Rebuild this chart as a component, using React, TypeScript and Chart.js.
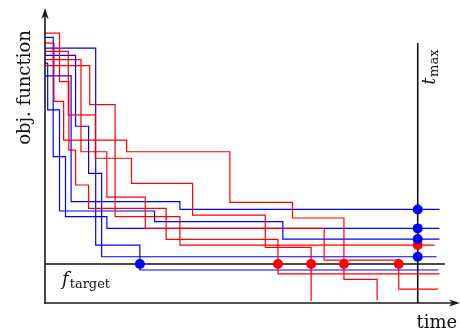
import React, { useEffect, useRef } from "react";
import { Chart, registerables } from "chart.js";

Chart.register(...registerables);

// axis ranges (time, objective value)
const T_MAX = 100;
const F_TARGET = 15;
const X_MAX = 110;
const Y_MAX = 113.5;
const TARGET_END = 107.3;

// step runs: [time, objective value] — value holds until next time
const blue1: [number, number][] = [[0, 87.4], [7.0, 39.0], [36.2, 36.0], [105.85, 36.0]];
const blue2: [number, number][] = [[0, 102.2], [2.2, 56.3], [5.5, 33.2], [16.6, 28.7], [105.85, 28.7]];
const blue3: [number, number][] = [[0, 92.3], [0.72, 74.3], [3.9, 35.4], [29.4, 31.3], [63.8, 24.6], [105.85, 24.6]];
const blue4: [number, number][] = [[0, 98.1], [13.6, 22.3], [25.45, 12.7], [105.5, 12.7]];
const blue5: [number, number][] = [[0, 95.3], [8.2, 68.0], [11.7, 49.9], [15.2, 17.8], [105.05, 17.8]];

const red1: [number, number][] = [[0, 103.8], [3.9, 85.2], [6.4, 58.8], [8.2, 45.4], [11.7, 36.4], [32.5, 24.5], [62.5, 11.2], [105.85, 11.2]];
const red2: [number, number][] = [[0, 100], [2.4, 77.6], [5.0, 62.7], [21.9, 58.2], [49.6, 38.7], [66.4, 32.7], [80.2, 9.1], [89.1, 1.15]];
const red3: [number, number][] = [[0, 96.8], [6.25, 72.4], [13.5, 55.7], [23.2, 46.0], [39.6, 33.8], [59.1, 21.4], [71.4, 0.8]];
const red4: [number, number][] = [[0, 93.6], [9.65, 58.2], [16.6, 40.7], [26.9, 28.7], [74.9, 16.5], [94.9, 5.3], [105.5, 5.3]];
const red5: [number, number][] = [[0, 91.3], [12.0, 76.3], [18.8, 33.2], [36.2, 22.3], [104.5, 22.3]];

const blueRuns = [blue1, blue2, blue3, blue4, blue5];
const redRuns = [red1, red2, red3, red4, red5];

const BLUE = "#0000ff";
const RED = "#ff0000";
const FONT = '"DejaVu Serif", "Liberation Serif", serif';

function markerFor(run: [number, number][]) {
  for (const [t, f] of run) {
    if (t <= T_MAX && f <= F_TARGET) return { x: t, y: F_TARGET };
  }
  let last = run[0][1];
  for (const [t, f] of run) if (t <= T_MAX) last = f;
  return { x: T_MAX, y: last };
}

const decor = {
  id: "decor",
  afterDraw(chart: any) {
    const { ctx, scales } = chart;
    const xs = scales.x;
    const ys = scales.y;
    const x0 = xs.getPixelForValue(0);
    const y0 = ys.getPixelForValue(0);
    const yTop = ys.getPixelForValue(Y_MAX);
    const xEnd = xs.getPixelForValue(X_MAX) + 5;
    ctx.save();
    ctx.strokeStyle = "#1a1a1a";
    ctx.fillStyle = "#1a1a1a";
    ctx.lineWidth = 1.6;
    // y axis
    ctx.beginPath();
    ctx.moveTo(x0, y0 + 0.8);
    ctx.lineTo(x0, yTop + 5);
    ctx.stroke();
    ctx.beginPath();
    ctx.moveTo(x0, yTop);
    ctx.lineTo(x0 + 3.6, yTop + 11);
    ctx.lineTo(x0, yTop + 8);
    ctx.lineTo(x0 - 3.6, yTop + 11);
    ctx.closePath();
    ctx.fill();
    // x axis
    ctx.beginPath();
    ctx.moveTo(x0 - 0.8, y0);
    ctx.lineTo(xEnd - 5, y0);
    ctx.stroke();
    ctx.beginPath();
    ctx.moveTo(xEnd, y0);
    ctx.lineTo(xEnd - 11, y0 - 3.6);
    ctx.lineTo(xEnd - 8, y0);
    ctx.lineTo(xEnd - 11, y0 + 3.6);
    ctx.closePath();
    ctx.fill();

    ctx.fillStyle = "#111";
    // y title
    ctx.save();
    ctx.translate(25, (yTop + y0) / 2 - 68);
    ctx.rotate(-Math.PI / 2);
    ctx.font = `18px ${FONT}`;
    ctx.textAlign = "center";
    ctx.textBaseline = "middle";
    ctx.fillText("obj. function", 0, 0);
    ctx.restore();

    // x title
    ctx.font = `18px ${FONT}`;
    ctx.textAlign = "left";
    ctx.textBaseline = "alphabetic";
    ctx.fillText("time", 416.5, 328);

    // t_max label
    const tx = xs.getPixelForValue(T_MAX);
    ctx.save();
    ctx.translate(tx + 17, ys.getPixelForValue(84));
    ctx.rotate(-Math.PI / 2);
    ctx.font = `italic 18px ${FONT}`;
    ctx.fillText("t", 0, 0);
    const wt = ctx.measureText("t").width;
    ctx.font = `13px ${FONT}`;
    ctx.fillText("max", wt + 0.5, 3.7);
    ctx.restore();

    // f_target label
    const fy = ys.getPixelForValue(F_TARGET);
    ctx.font = `italic 18px ${FONT}`;
    ctx.fillText("f", 62, fy + 21);
    const wf = ctx.measureText("f").width;
    ctx.font = `13px ${FONT}`;
    ctx.fillText("target", 62 + wf + 1, fy + 24);
    ctx.restore();
  },
};

export default function App() {
  const ref = useRef<HTMLCanvasElement | null>(null);
  useEffect(() => {
    if (!ref.current) return;
    const runSet = (runs: [number, number][][], color: string) =>
      runs.map((run) => ({
        type: "line" as const,
        data: run.map(([t, f]) => ({ x: t, y: f })),
        borderColor: color,
        borderWidth: 1.2,
        stepped: "before" as const,
        pointRadius: 0,
        fill: false,
        order: 2,
      }));
    const chart = new Chart(ref.current, {
      type: "line",
      data: {
        datasets: [
          {
            data: blueRuns.map(markerFor),
            showLine: false,
            pointRadius: 5,
            pointBackgroundColor: BLUE,
            pointBorderWidth: 0,
            borderColor: BLUE,
            order: 0,
          },
          {
            data: redRuns.map(markerFor),
            showLine: false,
            pointRadius: 5,
            pointBackgroundColor: RED,
            pointBorderWidth: 0,
            borderColor: RED,
            order: 1,
          },
          ...runSet(redRuns, RED),
          ...runSet(blueRuns, BLUE),
          {
            data: [{ x: 0, y: F_TARGET }, { x: TARGET_END, y: F_TARGET }],
            borderColor: "#111",
            borderWidth: 1.6,
            pointRadius: 0,
            order: 3,
          },
          {
            data: [{ x: T_MAX, y: 0 }, { x: T_MAX, y: 100 }],
            borderColor: "#111",
            borderWidth: 1.6,
            pointRadius: 0,
            order: 3,
          },
        ] as any,
      },
      options: {
        animation: false,
        responsive: false,
        maintainAspectRatio: false,
        layout: { padding: { left: 45, right: 1.4, top: 8, bottom: 31 } },
        scales: {
          x: { type: "linear", min: 0, max: X_MAX, display: false },
          y: { type: "linear", min: 0, max: Y_MAX, display: false },
        },
        plugins: { legend: { display: false }, tooltip: { enabled: false } },
      },
      plugins: [decor],
    });
    return () => chart.destroy();
  }, []);
  return (
    <div style={{ position: "absolute", left: 0, top: 0, width: 460, height: 334, background: "#fff" }}>
      <canvas ref={ref} width={460} height={334} style={{ width: 460, height: 334, display: "block" }} />
    </div>
  );
}
